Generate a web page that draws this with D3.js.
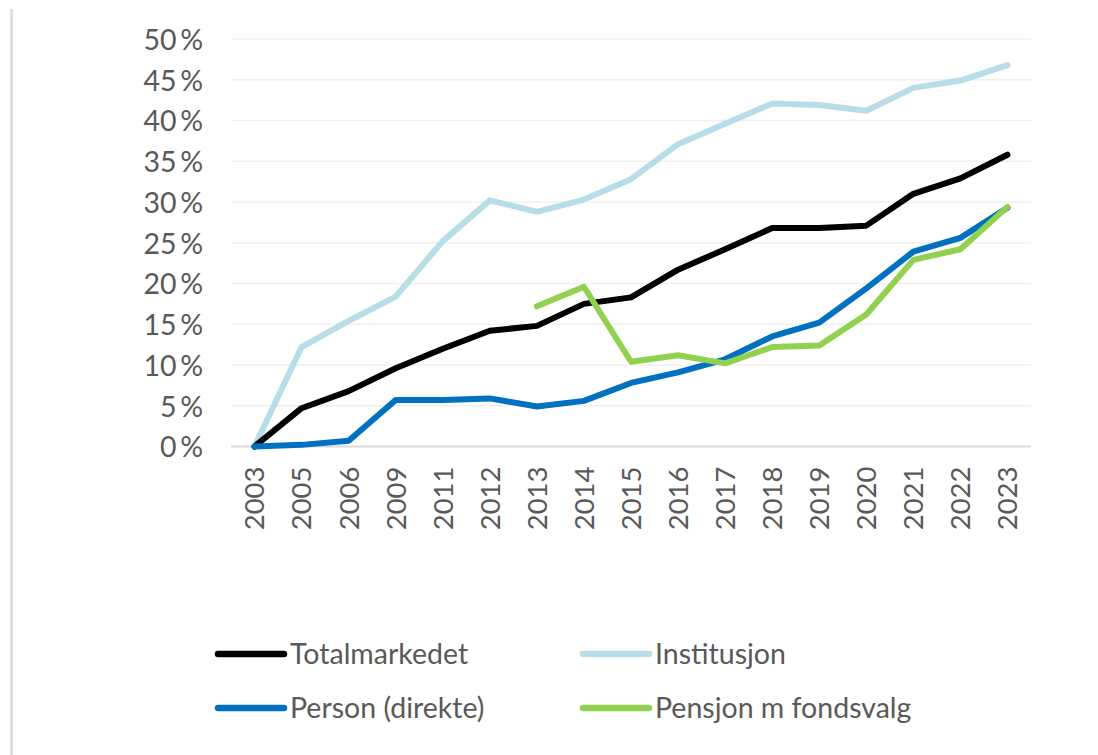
<!DOCTYPE html>
<html>
<head>
<meta charset="utf-8">
<script src="https://cdn.jsdelivr.net/npm/d3@7"></script>
<style>
  html, body { margin: 0; padding: 0; background: #fff; }
  text { font-family: Lato, "Open Sans", sans-serif; fill: #595959; }
</style>
</head>
<body>
<script>
var years = ['2003', '2005', '2006', '2009', '2011', '2012', '2013', '2014', '2015',
    '2016', '2017', '2018', '2019', '2020', '2021', '2022', '2023']
var totalmarkedet = [0, 4.7, 6.8, 9.6, 12.0, 14.2, 14.8, 17.5, 18.3, 21.7, 24.2, 26.8, 26.8, 27.1, 31.0, 32.9, 35.8]
var institusjon = [0, 12.2, 15.4, 18.4, 25.2, 30.2, 28.8, 30.3, 32.8, 37.1, 39.6, 42.1, 41.9, 41.2, 44.0, 44.9, 46.8]
var person = [0, 0.2, 0.7, 5.7, 5.7, 5.9, 4.9, 5.6, 7.8, 9.1, 10.7, 13.5, 15.2, 19.4, 23.9, 25.6, 29.3]
var pensjon = [null, null, null, null, null, null, 17.2, 19.6, 10.4, 11.2, 10.2, 12.2, 12.4, 16.2, 22.9, 24.2, 29.4]
var yTicks = [0, 5, 10, 15, 20, 25, 30, 35, 40, 45, 50]

var series = [
    {name: 'Institusjon', values: institusjon, color: '#b6dde8'},
    {name: 'Totalmarkedet', values: totalmarkedet, color: '#000000'},
    {name: 'Person (direkte)', values: person, color: '#0070c0'},
    {name: 'Pensjon m fondsvalg', values: pensjon, color: '#92d050'}
]
var legendOrder = ['Totalmarkedet', 'Institusjon', 'Person (direkte)', 'Pensjon m fondsvalg']

var width = 1098,
    height = 755
var svg = d3.select('body').append('svg')
    .attr('width', width)
    .attr('height', height)

// left border of the chart area
svg.append('line')
    .attr('x1', 11.5).attr('x2', 11.5)
    .attr('y1', 9).attr('y2', height)
    .attr('stroke', '#d9d9d9')
    .attr('stroke-width', 2.5)

var x = d3.scaleBand()
    .domain(years)
    .range([231, 1031])

var y = d3.scaleLinear()
    .domain([0, 50])
    .range([446.5, 39])

// gridlines
svg.append('g')
    .selectAll('line')
    .data(yTicks.filter(d => d > 0)).enter()
    .append('line')
    .attr('x1', 231).attr('x2', 1031)
    .attr('y1', d => y(d)).attr('y2', d => y(d))
    .attr('stroke', '#f0f0f0')
    .attr('stroke-width', 1.5)

// y axis labels
var yAxis = d3.axisLeft(y)
    .tickValues(yTicks)
    .tickSize(0)
    .tickPadding(0)
    .tickFormat(d => d + '\u2009%')
var gy = svg.append('g')
    .attr('transform', 'translate(203,0)')
    .call(yAxis)
gy.select('.domain').remove()
gy.selectAll('text')
    .attr('font-size', 28.5)
    .attr('dy', '0.36em')

// x axis
var xAxis = d3.axisBottom(x)
    .tickSize(0)
    .tickPadding(0)
var gx = svg.append('g')
    .attr('transform', 'translate(0,' + y(0) + ')')
    .call(xAxis)
gx.select('.domain').remove()
gx.selectAll('text')
    .attr('font-size', 27.5)
    .attr('text-anchor', 'end')
    .attr('transform', 'rotate(-90)')
    .attr('x', -20)
    .attr('y', 0)
    .attr('dy', '0.36em')

svg.append('line')
    .attr('x1', 231).attr('x2', 1031)
    .attr('y1', y(0)).attr('y2', y(0))
    .attr('stroke', '#d9d9d9')
    .attr('stroke-width', 2)

var line = d3.line()
    .defined(d => d !== null)
    .x((d, i) => x(years[i]) + x.bandwidth() / 2)
    .y(d => y(d))

svg.append('g')
    .selectAll('path')
    .data(series).enter()
    .append('path')
    .attr('d', d => line(d.values))
    .attr('fill', 'none')
    .attr('stroke', d => d.color)
    .attr('stroke-width', 6)
    .attr('stroke-linejoin', 'round')
    .attr('stroke-linecap', 'round')

// legend
var legendPos = [[215, 654], [580, 654], [215, 708], [580, 708]]
var lg = svg.append('g')
    .selectAll('g')
    .data(legendOrder).enter()
    .append('g')
    .attr('transform', (d, i) => 'translate(' + legendPos[i][0] + ',' + legendPos[i][1] + ')')
lg.append('line')
    .attr('x1', 3).attr('x2', 69)
    .attr('stroke', d => series.find(s => s.name == d).color)
    .attr('stroke-width', 6.5)
    .attr('stroke-linecap', 'round')
lg.append('text')
    .attr('x', 75)
    .attr('dy', '0.36em')
    .attr('font-size', 28.5)
    .text(d => d)
</script>
</body>
</html>
